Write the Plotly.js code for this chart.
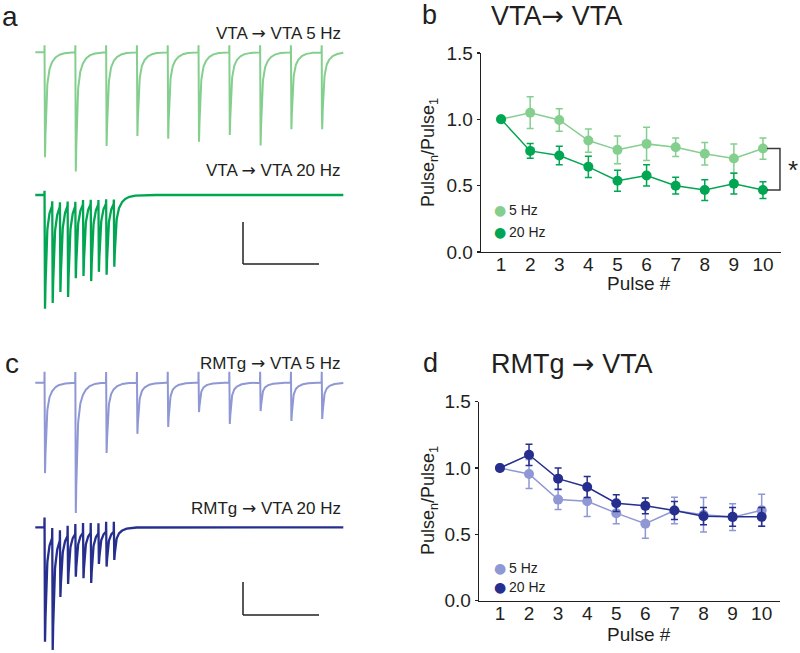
<!DOCTYPE html>
<html>
<head>
<meta charset="utf-8">
<script src="https://cdn.plot.ly/plotly-3.0.1.min.js"></script>
<style>
  html, body { margin: 0; padding: 0; background: #fff; }
  #chart { width: 800px; height: 653px; }
</style>
</head>
<body>
<div id="chart"></div>
<script>
// Paired-pulse ratios (Pulse_n / Pulse_1), mean and SEM
const pulse = [1, 2, 3, 4, 5, 6, 7, 8, 9, 10];
const vta5Mean = [1.00, 1.05, 0.995, 0.84, 0.77, 0.815, 0.79, 0.74, 0.705, 0.78];
const vta5Err = [0, 0.12, 0.085, 0.088, 0.105, 0.125, 0.07, 0.085, 0.11, 0.08];
const vta20Mean = [1.00, 0.762, 0.727, 0.642, 0.537, 0.577, 0.50, 0.467, 0.515, 0.467];
const vta20Err = [0, 0.056, 0.07, 0.08, 0.08, 0.08, 0.063, 0.078, 0.078, 0.063];
const rmtg5Mean = [1.00, 0.955, 0.762, 0.75, 0.66, 0.58, 0.68, 0.648, 0.63, 0.682];
const rmtg5Err = [0, 0.11, 0.075, 0.115, 0.08, 0.11, 0.10, 0.13, 0.10, 0.12];
const rmtg20Mean = [1.00, 1.10, 0.92, 0.857, 0.735, 0.715, 0.68, 0.637, 0.632, 0.632];
const rmtg20Err = [0, 0.08, 0.08, 0.08, 0.063, 0.06, 0.068, 0.065, 0.07, 0.07];

// Example trace peak amplitudes (pA) for each of the 10 pulses
const vta5Amp = [250, 284, 223, 199, 206, 213, 197, 222, 183, 183];
const vta20Amp = [271, 257, 231, 243, 198, 193, 205, 183, 190, 171];
const rmtg5Amp = [274, 395, 213, 155, 134, 89, 125, 86, 116, 110];
const rmtg20Amp = [347, 372, 211, 172, 150, 154, 169, 111, 119, 99];

const greenLight = '#84cf8e';
const greenDark = '#00a651';
const purpleLight = '#8f97d4';
const navy = '#262e8e';
const ink = '#231f20';
const FONT = 'Liberation Sans, Arial, Helvetica, sans-serif';
const ARROW = '<span style="font-family:DejaVu Sans">→</span>';

const W = 800, H = 653;
const px = x => x / W;
const py = y => 1 - y / H;

// ---- synthetic EPSC shape used to draw the example traces ----
function kernel(dt) {
    if (dt <= 0) return 0;
    return (1 - Math.exp(-dt / 1.2)) * (0.75 * Math.exp(-dt / 7) + 0.25 * Math.exp(-dt / 35));
}
let kPeakT = 1, kMax = 0;
for (let k = 1; k < 30; k++) {
    if (kernel(k) > kMax) { kMax = kernel(k); kPeakT = k; }
}

function buildTrace(amps, interval, baseline, artifact) {
    const stims = amps.map((_, i) => i * interval);
    const A = [];
    stims.forEach((s, i) => {
        let residual = 0;
        for (let j = 0; j < i; j++) residual += A[j] * kernel(s + kPeakT - stims[j]) / kMax;
        A.push(amps[i] - residual);
    });
    const t = [], y = [];
    for (let ms = -60; ms <= 1940; ms++) {
        let v = baseline;
        stims.forEach((s, j) => {
            v -= A[j] * kernel(ms - s) / kMax;
            if (ms === s) v += artifact;
        });
        t.push(ms);
        y.push(v);
    }
    return { t, y };
}

// pixel geometry of the trace panels (layout only)
const msPerPx = 200 / 30.8;
const tRange = [(0 - 45) * msPerPx + kPeakT, (360 - 45) * msPerPx + kPeakT];
const panelA = { top: 0, bottom: 330, paPerPx: 100 / 42, base5: 52.3, base20: 195 };
const panelC = { top: 330, bottom: 653, paPerPx: 100 / 33, base5: 382.7, base20: 527.3 };
function yRange(p) {
    const top = (p.base5 - p.top) * p.paPerPx;
    return [top - (p.bottom - p.top) * p.paPerPx, top];
}
const off20 = p => -(p.base20 - p.base5) * p.paPerPx;

const a5 = buildTrace(vta5Amp, 200, 0, 17);
const a20 = buildTrace(vta20Amp, 50, off20(panelA), 10);
const c5 = buildTrace(rmtg5Amp, 200, 0, 33);
const c20 = buildTrace(rmtg20Amp, 50, off20(panelC), 30);

function traceLine(d, color, xa, ya, w) {
    return {
        x: d.t, y: d.y, xaxis: xa, yaxis: ya, type: 'scatter', mode: 'lines',
        line: { color: color, width: w }, hoverinfo: 'skip'
    };
}

function ppr(mean, err, color, xa, ya) {
    return {
        x: pulse, y: mean, xaxis: xa, yaxis: ya, type: 'scatter', mode: 'lines+markers',
        line: { color: color, width: 1.5 },
        marker: { color: color, size: 10 },
        error_y: { type: 'data', array: err, visible: true, color: color, thickness: 1.5, width: 3.5 }
    };
}

const traces = [
    traceLine(a5, greenLight, 'x3', 'y3', 2),
    traceLine(a20, greenDark, 'x3', 'y3', 2.3),
    traceLine(c5, purpleLight, 'x4', 'y4', 2),
    traceLine(c20, navy, 'x4', 'y4', 2.3),
    ppr(vta5Mean, vta5Err, greenLight, 'x', 'y'),
    ppr(vta20Mean, vta20Err, greenDark, 'x', 'y'),
    ppr(rmtg5Mean, rmtg5Err, purpleLight, 'x2', 'y2'),
    ppr(rmtg20Mean, rmtg20Err, navy, 'x2', 'y2')
];

const pprX = (domain, range) => ({
    domain: domain, range: range, showgrid: false, zeroline: false,
    showline: true, linecolor: ink, linewidth: 1.3, ticks: '', ticklabelstandoff: -5,
    tickvals: pulse, tickfont: { size: 19, color: ink, family: FONT }
});
const pprY = (domain, anchor) => ({
    domain: domain, anchor: anchor, range: [0, 1.5], showgrid: false, zeroline: false,
    showline: true, linecolor: ink, linewidth: 1.3, ticks: 'outside', ticklen: 3,
    tickwidth: 1.3, tickcolor: ink, tickvals: [0, 0.5, 1, 1.5], tickformat: '.1f',
    tickfont: { size: 19, color: ink, family: FONT }
});
const hidden = (domain, range, anchor) => ({
    domain: domain, range: range, anchor: anchor, visible: false, fixedrange: true
});

function txt(x, y, text, size, opts) {
    return Object.assign({
        xref: 'paper', yref: 'paper', x: px(x), y: py(y), text: text, showarrow: false,
        xanchor: 'left', yanchor: 'middle', font: { size: size, color: ink, family: FONT }
    }, opts || {});
}
function dot(x, y, color) {
    return txt(x, y, '●', 14, { xanchor: 'center', font: { size: 14, color: color, family: 'DejaVu Sans' } });
}
function seg(x0, y0, x1, y1) {
    return { type: 'line', xref: 'paper', yref: 'paper', x0: px(x0), y0: py(y0), x1: px(x1), y1: py(y1),
        line: { color: ink, width: 1.5 } };
}

const yTitle = 'Pulse<sub>n</sub>/Pulse<sub>1</sub>';

const layout = {
    width: W, height: H, margin: { l: 0, r: 0, t: 0, b: 0 },
    paper_bgcolor: '#fff', plot_bgcolor: 'rgba(0,0,0,0)',
    showlegend: false, font: { family: FONT, color: ink },
    xaxis: pprX([px(481), px(781)], [0.31, 10.62]),
    yaxis: pprY([py(252), py(53)], 'x'),
    xaxis2: Object.assign(pprX([px(479), px(780)], [0.28, 10.63]), { anchor: 'y2' }),
    yaxis2: pprY([py(600.7), py(401.7)], 'x2'),
    xaxis3: hidden([0, px(360)], tRange, 'y3'),
    yaxis3: hidden([py(330), 1], yRange(panelA), 'x3'),
    xaxis4: hidden([0, px(360)], tRange, 'y4'),
    yaxis4: hidden([0, py(330)], yRange(panelC), 'x4'),
    shapes: [
        // scale bars
        seg(243, 222, 243, 264), seg(243, 264, 319, 264),
        seg(243, 582, 243, 615), seg(243, 615, 319, 615),
        // significance bracket on panel b
        { type: 'path', xref: 'x', yref: 'y',
          path: `M 10.14 ${vta5Mean[9]} L 10.585 ${vta5Mean[9]} L 10.585 ${vta20Mean[9]} L 10.14 ${vta20Mean[9]}`,
          line: { color: '#3a3a3a', width: 1.5 } }
    ],
    annotations: [
        txt(0, 16, 'a', 28),
        txt(3, 363, 'c', 28),
        txt(420, 15, 'b', 27),
        txt(421, 363, 'd', 27),
        txt(489, 15, 'VTA' + ARROW + ' VTA', 27),
        txt(489, 363, 'RMTg ' + ARROW + ' VTA', 27),
        txt(343, 33, 'VTA ' + ARROW + ' VTA 5 Hz', 17, { xanchor: 'right' }),
        txt(343, 170, 'VTA ' + ARROW + ' VTA 20 Hz', 17, { xanchor: 'right' }),
        txt(343, 363, 'RMTg ' + ARROW + ' VTA 5 Hz', 17, { xanchor: 'right' }),
        txt(343, 508, 'RMTg ' + ARROW + ' VTA 20 Hz', 17, { xanchor: 'right' }),
        txt(430, 153, yTitle, 18, { xanchor: 'center', textangle: -90 }),
        txt(430, 501, yTitle, 18, { xanchor: 'center', textangle: -90 }),
        txt(639, 283, 'Pulse #', 19, { xanchor: 'center' }),
        txt(639, 634, 'Pulse #', 19, { xanchor: 'center' }),
        dot(500, 210, greenLight), txt(507, 210, '5 Hz', 14),
        dot(500, 232, greenDark), txt(507, 232, '20 Hz', 14),
        dot(500, 568, purpleLight), txt(507, 568, '5 Hz', 14),
        dot(500, 587, navy), txt(507, 587, '20 Hz', 14),
        txt(793, 170, '*', 26, { xanchor: 'center' })
    ]
};

Plotly.newPlot('chart', traces, layout, { staticPlot: true, displayModeBar: false });
</script>
</body>
</html>
